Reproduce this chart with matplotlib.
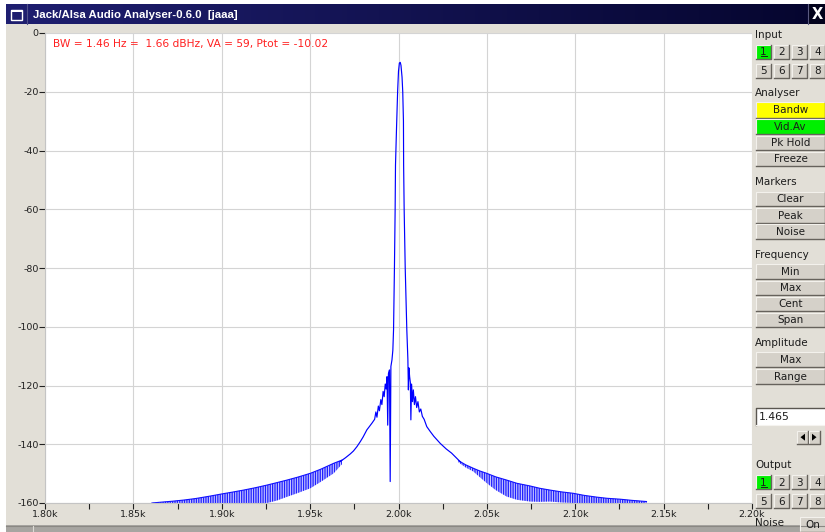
import matplotlib
matplotlib.use("Agg")
import numpy as np
import matplotlib.pyplot as plt
from matplotlib.patches import Rectangle, Polygon

plt.rcParams['axes.unicode_minus'] = False
plt.rcParams['hatch.linewidth'] = 0.9
plt.rcParams['font.family'] = ['DejaVu Sans']

# ---------------------------------------------------------------- data
freq_ticks_hz = [1800, 1850, 1900, 1950, 2000, 2050, 2100, 2150, 2200]
freq_tick_labels = ["1.80k", "1.85k", "1.90k", "1.95k", "2.00k",
                    "2.05k", "2.10k", "2.15k", "2.20k"]
freq_minor_ticks_hz = [1825, 1875, 1925, 1975, 2025, 2075, 2125, 2175]
level_ticks_db = [0, -20, -40, -60, -80, -100, -120, -140, -160]
level_tick_labels = ["0", "-20", "-40", "-60", "-80", "-100", "-120", "-140", "-160"]

# main lobe and close-in skirt of the analysed tone
core_freq_hz = [1967.0, 1970.0, 1972.7, 1974.5, 1976.5, 1978.5, 1980.0, 1982.1,
                1983.5, 1985.0, 1986.5, 1987.2, 1987.8, 1988.6, 1989.2, 1990.0,
                1990.6, 1991.3, 1991.9, 1992.5, 1993.0, 1993.5, 1993.9, 1994.3,
                1994.9, 1995.3, 1995.7, 1996.3, 1996.8, 1997.2, 1997.7, 1998.1,
                1998.3, 1998.9, 1999.5, 2000.0, 2000.5, 2001.0, 2001.4, 2002.0,
                2002.4, 2002.8, 2002.9, 2003.2, 2003.8, 2004.7, 2005.3, 2005.6,
                2005.9, 2006.3, 2006.7, 2007.0, 2007.4, 2007.9, 2008.4, 2009.0,
                2009.6, 2010.3, 2011.0, 2011.8, 2012.6, 2013.5, 2014.5, 2016.0,
                2018.0, 2020.0, 2023.6, 2027.0, 2030.0, 2033.0, 2035.0]
core_level_db = [-145.9, -144.6, -143.3, -142.3, -140.8, -139.0, -137.5, -135.1,
                 -134.0, -132.8, -131.5, -129.0, -130.8, -127.0, -128.6, -124.8,
                 -126.5, -122.0, -123.8, -119.5, -121.2, -117.0, -133.5, -116.0,
                 -114.7, -152.7, -113.5, -111.3, -108.0, -101.0, -80.0, -60.0,
                 -45.0, -32.0, -20.0, -13.0, -10.2, -10.0, -11.0, -15.0,
                 -20.0, -30.0, -45.0, -60.0, -80.0, -101.0, -111.0, -121.5,
                 -114.0, -117.0, -119.0, -131.7, -119.5, -125.5, -121.5, -126.5,
                 -123.8, -127.5, -125.5, -129.0, -128.0, -130.5, -131.5, -134.0,
                 -135.7, -137.3, -139.7, -141.6, -143.0, -144.8, -146.0]

# sidelobe band below the tone: lobe peaks and lobe nulls
left_skirt_freq_hz = [1860.5, 1866.0, 1872.0, 1878.5, 1885.0, 1892.0, 1900.2, 1906.0,
                      1912.4, 1919.0, 1925.6, 1931.0, 1936.9, 1943.0, 1950.1, 1956.0,
                      1963.3, 1968.0]
left_skirt_top_db = [-160.0, -159.7, -159.4, -159.0, -158.5, -157.8, -156.9, -156.3,
                     -155.6, -154.8, -153.9, -153.1, -152.2, -151.2, -149.9, -148.5,
                     -146.5, -145.4]
left_skirt_floor_db = [-160.0, -160.0, -160.0, -160.0, -160.0, -160.0, -160.0, -160.0,
                       -160.0, -160.0, -160.0, -159.2, -157.9, -156.6, -155.0, -152.8,
                       -149.9, -146.8]

# sidelobe band above the tone
right_skirt_freq_hz = [2034.0, 2038.0, 2042.4, 2046.0, 2049.9, 2055.0, 2061.2, 2067.0,
                       2074.4, 2080.0, 2085.7, 2092.0, 2098.9, 2105.0, 2112.1, 2118.0,
                       2125.3, 2132.0, 2140.3]
right_skirt_top_db = [-145.6, -147.0, -148.2, -149.1, -149.9, -151.1, -152.2, -153.3,
                      -154.2, -155.0, -155.6, -156.2, -156.7, -157.4, -158.0, -158.4,
                      -158.7, -159.1, -159.5]
right_skirt_floor_db = [-146.2, -147.9, -149.3, -151.2, -153.2, -155.6, -157.8, -158.9,
                        -159.5, -159.6, -159.5, -159.8, -160.0, -160.0, -160.0, -160.0,
                        -160.0, -160.0, -160.0]

readout_text = "BW = 1.46 Hz =  1.66 dBHz, VA = 59, Ptot = -10.02"
window_title = "Jack/Alsa Audio Analyser-0.6.0  [jaaa]"

# ---------------------------------------------------------------- window
W, H = 825, 532
BG = '#e2dfd7'
BTN = '#d5d1c9'
DARK = '#1c1c1c'

fig = plt.figure(figsize=(W / 100, H / 100), dpi=100, facecolor='white')
ui = fig.add_axes([0, 0, 1, 1])
ui.set_zorder(0)
ui.axis('off')
ui.set_autoscale_on(False)
ui.set_xlim(0, W)
ui.set_ylim(H, 0)

ui.add_patch(Rectangle((6, 24), W - 6, 501, facecolor=BG, edgecolor='none'))
ui.add_patch(Rectangle((6, 525), W - 6, 7, facecolor='#a7a5a1', edgecolor='none'))
ui.plot([6, W], [525.5, 525.5], color='#8a8883', lw=0.8)
ui.plot([33, 33], [526, 532], color='#dcdad5', lw=0.8)

# title bar
grad = np.linspace(0, 1, 256)[None, :, None]
c0 = np.array([0.12, 0.12, 0.44])[None, None, :]
c1 = np.array([0.02, 0.02, 0.18])[None, None, :]
ui.imshow(c0 * (1 - grad) + c1 * grad, extent=[6, W, 24, 4], aspect='auto',
          interpolation='bilinear', zorder=1)
ui.add_patch(Rectangle((808, 4), W - 808, 20, facecolor='#03031c', edgecolor='none', zorder=2))
ui.plot([808, 808], [4, 24], color='#5a5a80', lw=0.8, zorder=3)
ui.text(817.5, 14.5, "X", color='white', fontsize=10.5, fontweight='bold',
        ha='center', va='center', zorder=3)
ui.add_patch(Rectangle((10.5, 9.5), 11, 10, facecolor='none', edgecolor='white', lw=1.0, zorder=3))
ui.add_patch(Rectangle((10.5, 9.5), 11, 2.5, facecolor='white', edgecolor='none', zorder=3))
ui.plot([27, 27], [4, 24], color='#50508a', lw=0.8, zorder=3)
ui.text(33, 14.5, window_title, color='white', fontsize=8.2, fontweight='bold',
        family=['Liberation Sans', 'DejaVu Sans'], ha='left', va='center', zorder=3)


def button(x0, y0, x1, y1, label="", face=BTN, underline=False):
    ui.add_patch(Rectangle((x0, y0), x1 - x0, y1 - y0, facecolor=face, edgecolor='none'))
    ui.plot([x0, x0, x1], [y1, y0, y0], color='#f3f1ec', lw=0.8)
    ui.plot([x0, x1, x1], [y1, y1, y0], color='#66625c', lw=1.0)
    if label:
        ui.text((x0 + x1) / 2, (y0 + y1) / 2 + 0.6, label, ha='center', va='center',
                fontsize=7.5, color=DARK)
        if underline:
            ui.plot([(x0 + x1) / 2 - 2.5, (x0 + x1) / 2 + 3], [y1 - 2.5, y1 - 2.5],
                    color=DARK, lw=0.7)


def label(y, text):
    ui.text(755, y, text, ha='left', va='center', fontsize=7.5, color=DARK)


def channel_grid(y_top):
    cols = [(756, 771), (774, 789), (792, 807), (810, 825)]
    for row, y0 in enumerate([y_top, y_top + 19]):
        for c, (x0, x1) in enumerate(cols):
            n = row * 4 + c + 1
            face = '#00f000' if n == 1 else BTN
            button(x0, y0, x1, y0 + 14, str(n), face, underline=(n == 1))


label(35, "Input")
channel_grid(44.5)
label(93, "Analyser")
button(756, 102, 825, 117.5, "Bandw", '#ffff00')
button(756, 119, 825, 134, "Vid.Av", '#00f000')
button(756, 135.5, 825, 150, "Pk Hold")
button(756, 151.5, 825, 166, "Freeze")
label(182, "Markers")
button(756, 191.5, 825, 206, "Clear")
button(756, 208, 825, 222.5, "Peak")
button(756, 224, 825, 238.5, "Noise")
label(254.5, "Frequency")
button(756, 264, 825, 279, "Min")
button(756, 280.5, 825, 295, "Max")
button(756, 296.5, 825, 311, "Cent")
button(756, 312.5, 825, 327, "Span")
label(343.5, "Amplitude")
button(756, 352, 825, 367, "Max")
button(756, 368.5, 825, 383.5, "Range")

# numeric entry
ui.add_patch(Rectangle((756, 408), 69, 17, facecolor='white', edgecolor='none'))
ui.plot([756, 756, 825], [425, 408, 408], color='#5a5650', lw=1.0)
ui.plot([756, 825], [425, 425], color='#f5f3ef', lw=0.8)
ui.text(758.5, 417, "1.465", ha='left', va='center', fontsize=7.8, color=DARK)

# step arrows
button(797, 430.5, 808, 444)
button(809, 430.5, 820, 444)
ui.add_patch(Polygon([[800.5, 437.2], [805, 433.7], [805, 440.7]], closed=True,
                     facecolor='black', edgecolor='none'))
ui.add_patch(Polygon([[816.5, 437.2], [812, 433.7], [812, 440.7]], closed=True,
                     facecolor='black', edgecolor='none'))

label(465.5, "Output")
channel_grid(475)
label(522.5, "Noise")
button(800, 516.5, 826, 532, "On")

# ---------------------------------------------------------------- spectrum
ax = fig.add_axes([45 / W, (H - 503) / H, (752 - 45) / W, (503 - 33) / H])
ax.set_zorder(1)
ax.set_facecolor('white')
ax.set_xlim(freq_ticks_hz[0], freq_ticks_hz[-1])
ax.set_ylim(level_ticks_db[-1], level_ticks_db[0])

ax.set_xticks(freq_ticks_hz)
ax.set_xticklabels(freq_tick_labels)
ax.set_xticks(freq_minor_ticks_hz, minor=True)
ax.set_yticks(level_ticks_db)
ax.set_yticklabels(level_tick_labels)
ax.tick_params(which='both', direction='out', length=4.0, width=0.8,
               color='#202020', labelsize=6.8, labelcolor='#202020', pad=1.0)
ax.tick_params(axis='y', pad=0.6)
ax.grid(True, which='major', color='#d4d4d4', lw=0.8)
ax.set_axisbelow(True)
for side in ('top', 'right'):
    ax.spines[side].set_visible(False)
for side in ('left', 'bottom'):
    ax.spines[side].set_color('#c4c4c4')
    ax.spines[side].set_linewidth(0.8)

# sidelobe comb: one vertical stroke per lobe between its null and its peak
band_kw = dict(facecolor='#c6c6ff', edgecolor='#2020ff', hatch='|||||||', linewidth=0)
ax.fill_between(left_skirt_freq_hz, left_skirt_floor_db, left_skirt_top_db, **band_kw)
ax.fill_between(right_skirt_freq_hz, right_skirt_floor_db, right_skirt_top_db, **band_kw)
ax.plot(left_skirt_freq_hz, left_skirt_top_db, color='#1010ff', lw=0.8)
ax.plot(right_skirt_freq_hz, right_skirt_top_db, color='#1010ff', lw=0.8)
ax.plot(core_freq_hz, core_level_db, color='#0000ff', lw=0.85)

ax.text((53 - 45) / 707, (503 - 43.5) / 470, readout_text, transform=ax.transAxes,
        ha='left', va='center', fontsize=7.7, color='#ff2020')

fig.savefig("out.png", dpi=100, facecolor=fig.get_facecolor())
